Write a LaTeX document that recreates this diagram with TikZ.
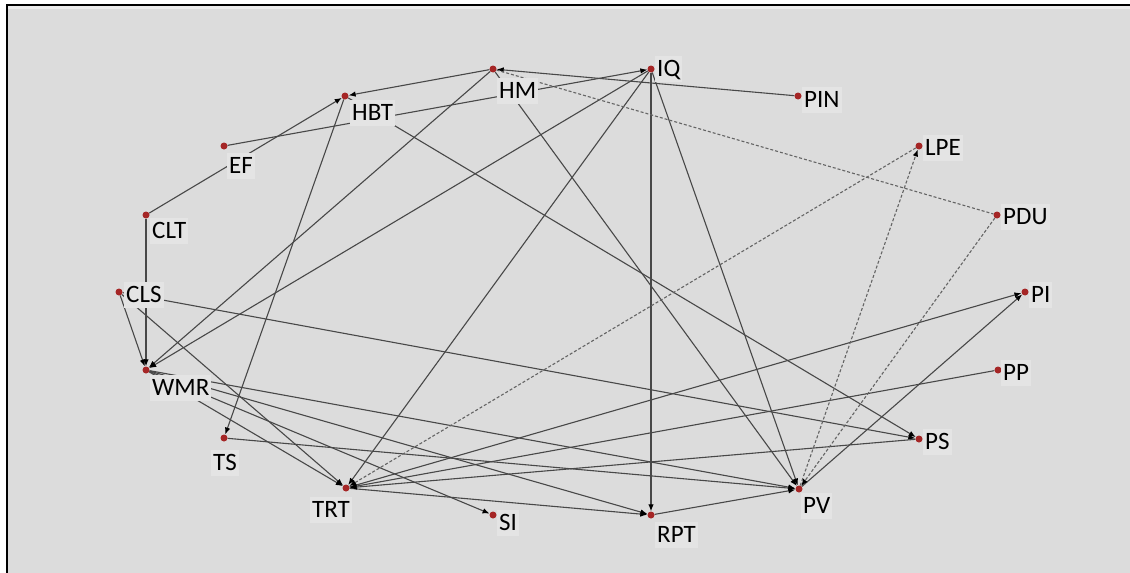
\documentclass[tikz,border=0pt]{standalone}
\usepackage{fontspec}
\setmainfont{Carlito}
\usetikzlibrary{arrows.meta}
\definecolor{bggray}{RGB}{220,220,220}
\definecolor{stripgray}{RGB}{236,236,236}
\definecolor{labgray}{RGB}{228,228,228}
\definecolor{linegray}{RGB}{72,72,72}
\definecolor{dashgray}{RGB}{100,100,100}
\definecolor{dotred}{RGB}{165,38,38}
\pgfdeclarelayer{bg}
\pgfdeclarelayer{edges}
\pgfsetlayers{bg,edges,main}
\tikzset{
  dot/.style={circle,fill=dotred,draw=none,inner sep=0pt,minimum size=7pt},
  lab/.style={anchor=base west,fill=labgray,inner xsep=2pt,inner ysep=2pt,
    text height=18pt,text depth=4pt,font=\fontsize{25}{30}\selectfont,text=black},
  link/.style={draw=linegray,line width=1.1pt},
  tip/.style={-{Latex[length=7pt,width=5.5pt,color=black]}},
  arr/.style={link,tip},
  dlink/.style={draw=dashgray,line width=1.1pt,dash pattern=on 3pt off 2pt},
  darr/.style={dlink,tip},
}
\begin{document}
\begin{tikzpicture}[x=1pt,y=-1pt]
\useasboundingbox (0,0) rectangle (1130,573);
\begin{pgfonlayer}{bg}
  \fill[white] (0,0) rectangle (1130,573);
  \fill[bggray] (7,5) rectangle (1130,573);
  \fill[stripgray] (8,6) rectangle (1130,9);
  \draw[black,line width=1.6pt] (7,573) -- (7,5) -- (1130,5);
\end{pgfonlayer}

% construct points
\node[dot] (HBT) at (345,96) {};
\node[dot] (EF)  at (224,146) {};
\node[dot] (CLT) at (146,215) {};
\node[dot] (HM)  at (493,69) {};
\node[dot] (IQ)  at (651,69) {};
\node[dot] (PIN) at (798,96) {};
\node[dot] (LPE) at (919,146) {};
\node[dot] (PDU) at (997,215) {};
\node[dot] (PI)  at (1025,292) {};
\node[dot] (PP)  at (998,370) {};
\node[dot] (PS)  at (919,439) {};
\node[dot] (PV)  at (799,489) {};
\node[dot] (RPT) at (651,515) {};
\node[dot] (SI)  at (493,515) {};
\node[dot] (TRT) at (346,488) {};
\node[dot] (TS)  at (224,438) {};
\node[dot] (WMR) at (146,370) {};
\node[dot] (CLS) at (119,292) {};

% paths
\begin{pgfonlayer}{edges}
  \draw[arr] (CLT) -- (HBT);
  \draw[arr] (HM) -- (HBT);
  \draw[arr] (EF) -- (IQ);
  \draw[arr] (PIN) -- (HM);
  \draw[arr] (HM) -- (WMR);
  \draw[arr] (IQ) -- (WMR);
  \draw[arr] (CLT) -- (WMR);
  \draw[arr] (CLS) -- (WMR);
  \draw[arr] (HBT) -- (TS);
  \draw[arr] (HBT) -- (PS);
  \draw[arr] (CLS) -- (PS);
  \draw[arr] (HM) -- (PV);
  \draw[arr] (IQ) -- (PV);
  \draw[arr] (IQ) -- (RPT);
  \draw[arr] (IQ) -- (TRT);
  \draw[arr] (CLS) -- (TRT);
  \draw[arr] (WMR) -- (TRT);
  \draw[arr] (WMR) -- (SI);
  \draw[arr] (WMR) -- (RPT);
  \draw[arr] (WMR) -- (PV);
  \draw[arr] (TS) -- (PV);
  \draw[arr] (TRT) -- (RPT);
  \draw[arr] (TRT) -- (PI);
  \draw[arr] (PP) -- (TRT);
  \draw[arr] (PS) -- (TRT);
  \draw[arr] (RPT) -- (PV);
  \draw[arr] (PV) -- (PI);
  \draw[dlink] (HM) -- (PDU);
  \draw[darr] (LPE) -- (TRT);
  \draw[darr] (PV) -- (LPE);
  \draw[darr] (PDU) -- (PV);
\end{pgfonlayer}

% labels
\node[lab] (HBTl) at (350,120) {HBT};
\node[lab] (EFl)  at (227,173) {EF};
\node[lab] (CLTl) at (150,238) {CLT};
\node[lab] (HMl)  at (497,98) {HM};
\node[lab] (IQl)  at (655,76) {IQ};
\node[lab] (PINl) at (802,107) {PIN};
\node[lab] (LPEl) at (923,155) {LPE};
\node[lab] (PDUl) at (1001,224) {PDU};
\node[lab] (PIl)  at (1029,302) {PI};
\node[lab] (PPl)  at (1001,380) {PP};
\node[lab] (PSl)  at (923,449) {PS};
\node[lab] (PVl)  at (801,513) {PV};
\node[lab] (RPTl) at (655,542) {RPT};
\node[lab] (SIl)  at (497,530) {SI};
\node[lab] (TRTl) at (310,517) {TRT};
\node[lab] (TSl)  at (211,470) {TS};
\node[lab] (WMRl) at (150,395) {WMR};
\node[lab] (CLSl) at (124,302) {CLS};
\end{tikzpicture}
\end{document}
